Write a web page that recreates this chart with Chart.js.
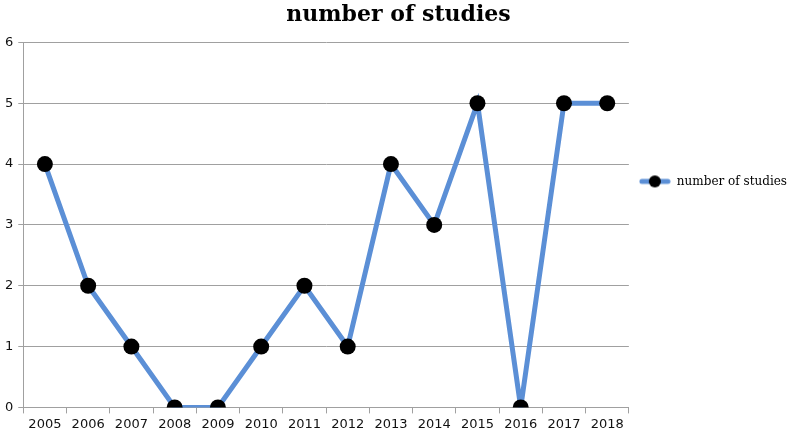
<!DOCTYPE html>
<html>
<head>
<meta charset="utf-8">
<script src="https://cdn.jsdelivr.net/npm/chart.js@4"></script>
<style>
  html, body { margin: 0; padding: 0; background: #fff; }
  #wrap { width: 787px; height: 432px; position: relative; }
</style>
</head>
<body>
<div id="wrap"><canvas id="chart"></canvas></div>
<script>
// chart data
const years = ['2005', '2006', '2007', '2008', '2009', '2010', '2011', '2012', '2013', '2014', '2015', '2016', '2017', '2018'];
const studies = [4, 2, 1, 0, 0, 1, 2, 1, 4, 3, 5, 0, 5, 5];
const yTicks = [0, 1, 2, 3, 4, 5, 6];

const lineColor = '#5b8fd6';

// legend marker: blue line with black dot
const marker = document.createElement('canvas');
marker.width = 32;
marker.height = 14;
const mctx = marker.getContext('2d');
mctx.strokeStyle = lineColor;
mctx.lineWidth = 5;
mctx.lineCap = 'round';
mctx.beginPath();
mctx.moveTo(3, 7);
mctx.lineTo(29, 7);
mctx.stroke();
mctx.fillStyle = '#000';
mctx.beginPath();
mctx.arc(16, 7, 6, 0, Math.PI * 2);
mctx.fill();

const ctx = document.getElementById('chart').getContext('2d');
const chart = new Chart(ctx, {
  type: 'line',
  data: {
    labels: years,
    datasets: [{
      label: 'number of studies',
      data: studies,
      borderColor: lineColor,
      borderWidth: 5,
      pointRadius: 8,
      pointBackgroundColor: '#000',
      pointBorderColor: '#000',
      pointBorderWidth: 0,
      tension: 0
    }]
  },
  options: {
    responsive: true,
    maintainAspectRatio: false,
    animation: false,
    layout: { padding: { top: 0, right: -10, bottom: -3, left: 0 } },
    plugins: {
      title: {
        display: true,
        text: 'number of studies',
        color: '#000',
        font: { family: 'DejaVu Serif', size: 22, weight: 'bold' },
        padding: { top: 2, bottom: 14 }
      },
      legend: {
        position: 'right',
        align: 'start',
        title: { display: true, text: '', padding: { top: 151, bottom: 0 } },
        labels: {
          color: '#000',
          font: { family: 'DejaVu Serif', size: 12 },
          usePointStyle: true,
          pointStyleWidth: 32,
          padding: 10,
          generateLabels: (c) => [{
            text: 'number of studies',
            pointStyle: marker,
            datasetIndex: 0,
            fontColor: '#000'
          }]
        }
      },
      tooltip: { enabled: false }
    },
    scales: {
      x: {
        offset: true,
        grid: {
          offset: true,
          drawOnChartArea: false,
          color: '#a0a0a0',
          tickLength: 6
        },
        border: { color: '#a0a0a0', width: 1 },
        ticks: {
          color: '#111',
          font: { family: 'DejaVu Sans', size: 13 },
          maxRotation: 0,
          padding: 3
        }
      },
      y: {
        min: 0,
        max: 6,
        afterBuildTicks: (axis) => { axis.ticks = yTicks.map(v => ({ value: v })); },
        grid: { color: '#a0a0a0', tickLength: 5 },
        border: { color: '#a0a0a0', width: 1 },
        ticks: {
          color: '#111',
          font: { family: 'DejaVu Sans', size: 13 },
          padding: 5
        }
      }
    }
  }
});
</script>
</body>
</html>
